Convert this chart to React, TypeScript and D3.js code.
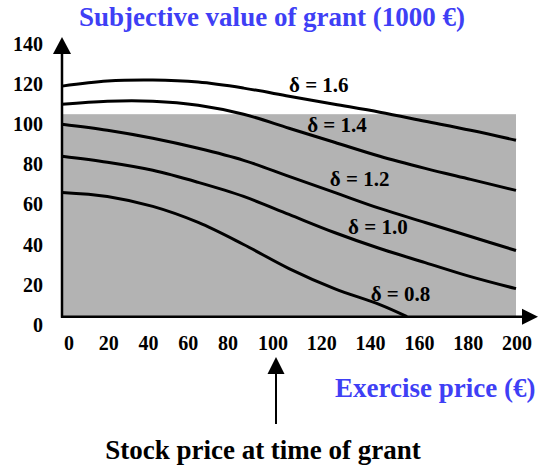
import React, { useRef, useEffect } from 'react'
import * as d3 from 'd3'

// exercise prices (€) where the curves were read
const prices = [0, 20, 40, 60, 80, 100, 120, 140, 160, 180, 200]
const prices08 = [0, 20, 40, 60, 80, 100, 120, 140, 152]

// subjective value of grant (1000 €) per delta
const delta16 = [115, 117.5, 118, 117, 114, 110, 106, 102, 97.5, 93, 88]
const delta14 = [106, 107.5, 107.5, 105.5, 101, 94, 87, 80, 74, 68.5, 63]
const delta12 = [96, 93, 89, 84, 78, 70, 62, 54, 47, 40, 33]
const delta10 = [80, 77, 73, 67, 60, 51, 42, 34, 27, 20, 14]
const delta08 = [62, 60, 55, 47, 36, 24, 14, 6, 0]

const deltaNames = ['δ = 1.6', 'δ = 1.4', 'δ = 1.2', 'δ = 1.0', 'δ = 0.8']
const labelPrice = [100, 108, 118, 126, 136]
const labelValue = [112, 92, 65, 41, 8]

const xTicks = [0, 20, 40, 60, 80, 100, 120, 140, 160, 180, 200]
const yTicks = [0, 20, 40, 60, 80, 100, 120, 140]
const shadeTop = 101 // stock price level shaded grey
const grantPrice = 100

const App = () => {
  const svgRef = useRef(null)

  useEffect(() => {
    const width = 538
    const height = 468
    const font = "'Liberation Serif', 'Times New Roman', Times, serif"
    const blue = '#3f3ff5'

    const x = d3.scaleLinear().domain([0, 200]).range([62, 516])
    const y = d3.scaleLinear().domain([0, 140]).range([316.7, 36])
    // tick labels in the original are not evenly spaced
    const xLab = d3.scaleLinear().domain([0, 80, 100, 200]).range([69, 228, 273, 517])

    const svg = d3.select(svgRef.current)
      .attr('width', width)
      .attr('height', height)
      .style('font-family', font)
      .style('font-weight', 'bold')
    svg.selectAll('*').remove()

    svg.append('rect')
      .attr('x', x(0))
      .attr('y', y(shadeTop))
      .attr('width', x(200) - x(0))
      .attr('height', y(0) - y(shadeTop))
      .attr('fill', '#b3b3b3')

    const line = d3.line()
      .x(d => x(d[0]))
      .y(d => y(d[1]))
      .curve(d3.curveCatmullRom.alpha(0.5))

    const series = [
      d3.zip(prices, delta16),
      d3.zip(prices, delta14),
      d3.zip(prices, delta12),
      d3.zip(prices, delta10),
      d3.zip(prices08, delta08),
    ]

    svg.append('g')
      .selectAll('path')
      .data(series)
      .join('path')
        .attr('d', line)
        .attr('fill', 'none')
        .attr('stroke', '#000')
        .attr('stroke-width', 3)

    // axes with arrows
    svg.append('line')
      .attr('x1', x(0)).attr('x2', x(0))
      .attr('y1', y(0) + 1).attr('y2', 50)
      .attr('stroke', '#000').attr('stroke-width', 2.5)
    svg.append('path')
      .attr('d', `M${x(0)},37 L${x(0) - 9},54 L${x(0) + 9},54 Z`)
      .attr('fill', '#000')
    svg.append('line')
      .attr('x1', x(0) - 1).attr('x2', 525)
      .attr('y1', y(0)).attr('y2', y(0))
      .attr('stroke', '#000').attr('stroke-width', 2.5)
    svg.append('path')
      .attr('d', `M538,${y(0)} L522,${y(0) - 8} L522,${y(0) + 8} Z`)
      .attr('fill', '#000')

    svg.append('g')
        .style('font-size', '20px')
        .attr('text-anchor', 'end')
      .selectAll('text')
      .data(yTicks)
      .join('text')
        .attr('x', 43)
        .attr('y', d => y(d) + 15)
        .text(d => d)

    svg.append('g')
        .style('font-size', '20px')
        .attr('text-anchor', 'middle')
      .selectAll('text')
      .data(xTicks)
      .join('text')
        .attr('x', d => xLab(d))
        .attr('y', 350)
        .text(d => d)

    svg.append('g')
        .style('font-size', '21px')
      .selectAll('text')
      .data(deltaNames)
      .join('text')
        .attr('x', (d, i) => x(labelPrice[i]))
        .attr('y', (d, i) => y(labelValue[i]))
        .text(d => d)

    svg.append('text')
      .attr('x', 272)
      .attr('y', 26)
      .attr('text-anchor', 'middle')
      .style('font-size', '27px')
      .attr('fill', blue)
      .text('Subjective value of grant (1000 €)')

    svg.append('text')
      .attr('x', 335)
      .attr('y', 397)
      .style('font-size', '27px')
      .attr('fill', blue)
      .text('Exercise price (€)')

    // stock price at time of grant marker
    const gx = xLab(grantPrice) + 3
    svg.append('line')
      .attr('x1', gx).attr('x2', gx)
      .attr('y1', 424).attr('y2', 370)
      .attr('stroke', '#000').attr('stroke-width', 2)
    svg.append('path')
      .attr('d', `M${gx},357 L${gx - 8.5},374 L${gx + 8.5},374 Z`)
      .attr('fill', '#000')

    svg.append('text')
      .attr('x', 263)
      .attr('y', 459)
      .attr('text-anchor', 'middle')
      .style('font-size', '27px')
      .attr('fill', '#000')
      .text('Stock price at time of grant')
  }, [])

  return (
    <svg ref={svgRef} style={{ position: 'absolute', left: 0, top: 0, display: 'block' }} />
  )
}

export default App
